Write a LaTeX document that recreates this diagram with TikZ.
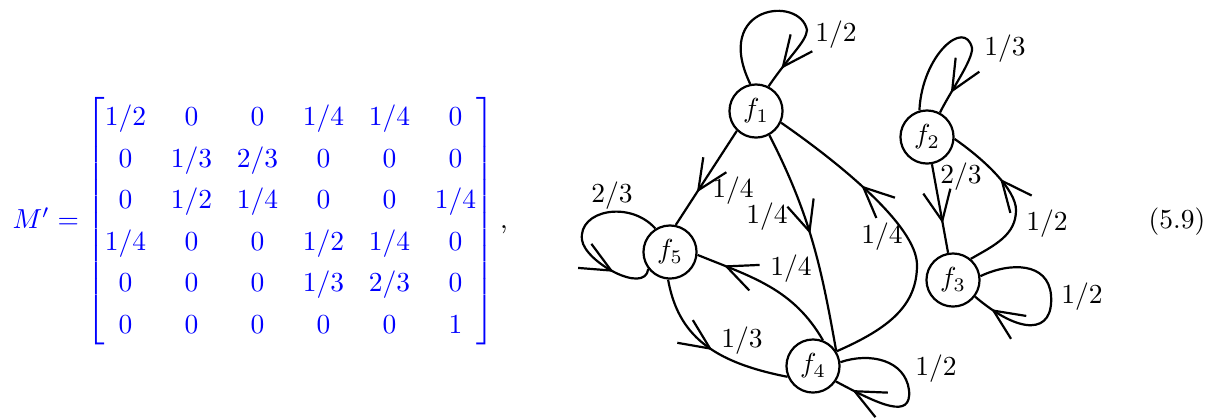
\documentclass[tikz,border=0pt]{standalone}
\usepackage{amsmath}
\usetikzlibrary{decorations.markings}
\begin{document}
\begin{tikzpicture}[x=0.3636pt,y=0.3636pt,
  every node/.style={inner sep=0pt},
  st/.style={draw, circle, minimum size=19.3pt, line width=0.8pt},
  edge/.style={line width=0.8pt},
  arr/.style={postaction={decorate,decoration={markings,mark=at position #1 with {\draw[line width=0.8pt] (-11pt,5pt) -- (0,0) -- (-11pt,-5pt);}}}},
  lbl/.style={anchor=base}]
\useasboundingbox (0,0) rectangle (1218,-417);

\node[anchor=base west, text=blue] (M) at (12,-228) {$\renewcommand{\arraystretch}{1.26}\setlength{\arraycolsep}{4.5pt}M' = \begin{bmatrix}
1/2 & 0 & 0 & 1/4 & 1/4 & 0\\
0 & 1/3 & 2/3 & 0 & 0 & 0\\
0 & 1/2 & 1/4 & 0 & 0 & 1/4\\
1/4 & 0 & 0 & 1/2 & 1/4 & 0\\
0 & 0 & 0 & 1/3 & 2/3 & 0\\
0 & 0 & 0 & 0 & 0 & 1
\end{bmatrix}$};
\node[anchor=base] (comma) at (504,-228) {,};
\node[anchor=base] (eqno) at (1177,-228) {(5.9)};

\node[st] (f1) at (756,-111) {$f_1$};
\node[st] (f2) at (927,-137) {$f_2$};
\node[st] (f3) at (953,-280) {$f_3$};
\node[st] (f4) at (813,-366) {$f_4$};
\node[st] (f5) at (670,-252) {$f_5$};

% f1 loop
\draw[edge,arr=0.88] (f1.102) .. controls (712,-5) and (800,5) .. (807,-30) .. controls (806,-42) and (790,-55) .. (f1.63);
% f1 -> f5
\draw[edge,arr=0.63] (f1.226) -- (f5.78);
% f1 -> f4
\draw[edge,arr=0.46] (f1.299) to[out=-63,in=100] (f4.33);
% f4 -> f1
\draw[edge,arr=0.68] (f4.32) .. controls (890,-328) and (917,-305) .. (917,-265) .. controls (917,-225) and (835,-160) .. (f1.335);
% f4 -> f5
\draw[edge,arr=0.8] (f4.69) to[out=120,in=-22] (f5.-6);
% f5 -> f4
\draw[edge,arr=0.5] (f5.266) .. controls (678,-335) and (712,-362) .. (f4.203);
% f5 loop
\draw[edge,arr=0.76] (f5.122) .. controls (630,-200) and (578,-210) .. (582,-240) .. controls (585,-262) and (645,-295) .. (f5.218);
% f4 loop
\draw[edge,arr=0.88] (f4.8) .. controls (870,-352) and (905,-360) .. (909,-390) .. controls (912,-420) and (880,-405) .. (f4.-34);
% f2 loop
\draw[edge,arr=0.86] (f2.106) .. controls (922,-55) and (965,-18) .. (972,-48) .. controls (973,-60) and (950,-92) .. (f2.62);
% f2 -> f3
\draw[edge,arr=0.64] (f2) -- (f3);
% f3 -> f2
\draw[edge,arr=0.62] (f3.50) .. controls (995,-245) and (1016,-235) .. (1016,-210) .. controls (1016,-190) and (985,-160) .. (f2.-4);
% f3 loop
\draw[edge,arr=0.88] (f3.8) .. controls (1010,-262) and (1048,-262) .. (1051,-295) .. controls (1054,-335) and (1020,-335) .. (f3.-37);

\node[lbl] (l1) at (836,-41) {$1/2$};
\node[lbl] (l2) at (733,-197) {$1/4$};
\node[lbl] (l3) at (767,-223) {$1/4$};
\node[lbl] (l4) at (882,-243) {$1/4$};
\node[lbl] (l5) at (791,-275) {$1/4$};
\node[lbl] (l6) at (742,-347) {$1/3$};
\node[lbl] (l7) at (612,-202) {$2/3$};
\node[lbl] (l8) at (936,-375) {$1/2$};
\node[lbl] (l9) at (1005,-55) {$1/3$};
\node[lbl] (l10) at (961,-183) {$2/3$};
\node[lbl] (l11) at (1047,-230) {$1/2$};
\node[lbl] (l12) at (1082,-303) {$1/2$};
\end{tikzpicture}
\end{document}
